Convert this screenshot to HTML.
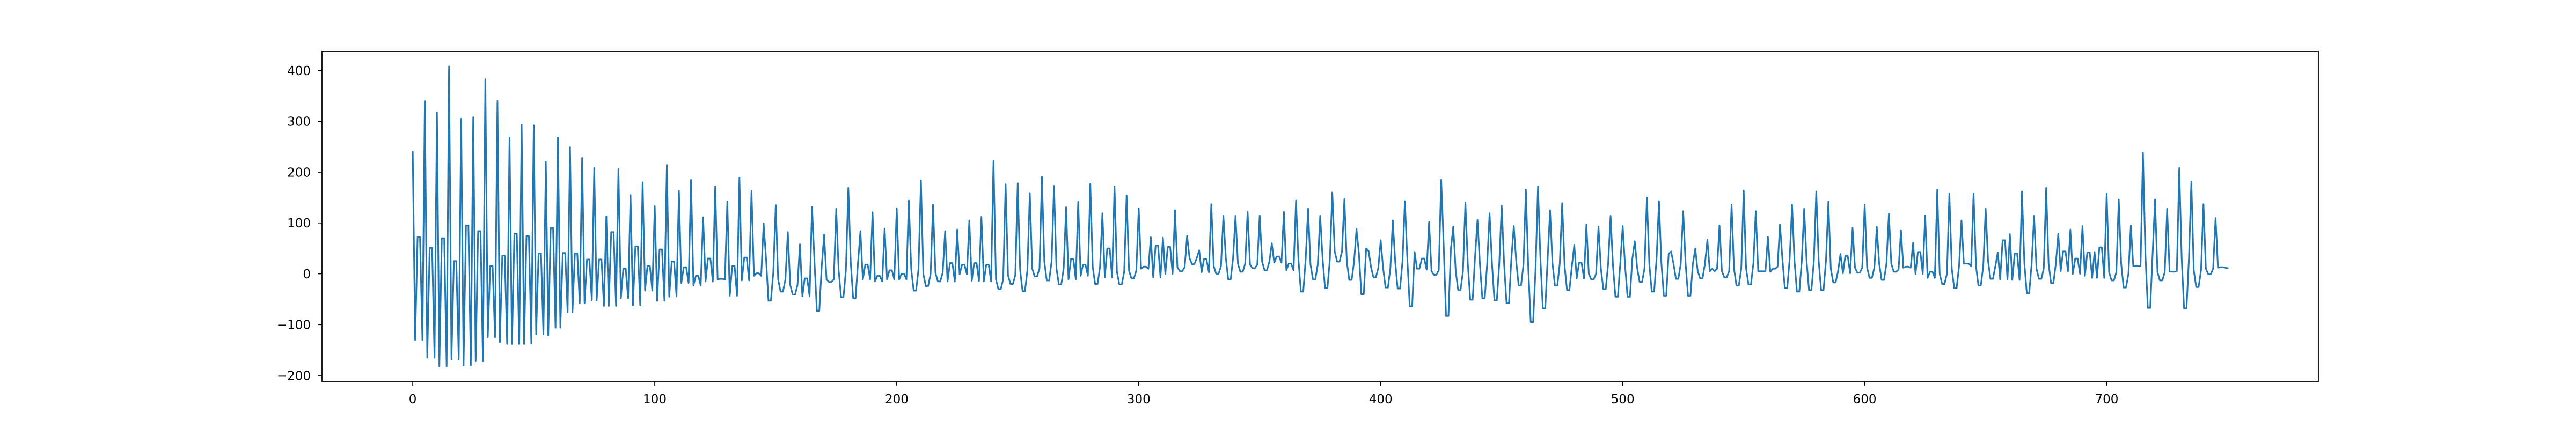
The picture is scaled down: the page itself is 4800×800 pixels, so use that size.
<!DOCTYPE html>
<html><head><meta charset="utf-8"><title>Series chart</title>
<style>html,body{margin:0;padding:0;background:#fff;}svg{display:block;}</style>
</head><body>
<svg id="chart" width="4800" height="800" viewBox="0 0 4800 800" xmlns="http://www.w3.org/2000/svg">
<rect x="0" y="0" width="4800" height="800" fill="#fff"/>
<g id="plot"></g>
</svg>
<script>
const xTicks = [0, 100, 200, 300, 400, 500, 600, 700];
const yTicks = [-200, -100, 0, 100, 200, 300, 400];
const yTickLabels = ["\u2212200", "\u2212100", "0", "100", "200", "300", "400"];
const seriesValues = [
240,-130,72,72,-130, 340,-165,51,51,-165, 318,-182,70,70,-182, 408,-168,25,25,-168,
305,-180,95,95,-180, 308,-172,84,84,-172, 383,-125,15,15,-125, 340,-135,36,36,-138,
268,-138,79,79,-138, 293,-138,74,74,-137, 292,-119,40,40,-119, 220,-121,90,90,-106,
268,-106,41,41,-76, 249,-76,40,40,-58, 228,-58,28,28,-52, 208,-52,28,28,-63,
113,-63,82,82,-63, 206,-48,10,10,-48, 155,-62,54,54,-62, 180,-33,15,15,-33,
133,-53,48,48,-53, 214,-45,24,24,-44, 163,-18,13,13,-18, 185,-23,-4,-4,-23,
111,-15,30,30,-15, 172,-11,-10,-10,-11, 142,-43,15,15,-43, 189,-13,32,32,-13,
163,-4,1,1,-4, 99,30,-53,-53,3, 135,-11,-35,-35,-11, 82,-22,-41,-41,-22,
58,-44,-9,-9,-44, 132,25,-73,-73,15, 77,-11,-16,-16,-11, 128,7,-46,-46,7,
169,22,-48,-48,22, 84,-11,18,18,-11, 121,-15,-4,-4,-15, 89,-11,7,7,-11,
129,-11,0,0,-11, 144,9,-33,-33,9, 184,0,-24,-24,0, 136,2,-15,-15,2,
84,-15,21,21,-15, 87,-1,18,18,-1, 105,-14,21,21,-14, 112,-15,18,18,-15,
222,-11,-30,-30,-11, 176,-3,-20,-20,-3, 178,7,-34,-34,7, 159,10,-5,-5,10,
191,24,-13,-13,24, 173,11,-21,-21,11, 131,-11,29,29,-11, 142,-4,18,18,-4,
177,13,-20,-20,13, 119,-7,50,50,-7, 172,4,-21,-21,4, 154,6,-9,-9,6,
129,10,14,14,10, 72,-7,56,56,-7, 71,0,53,53,0, 125,13,5,5,13,
75,31,19,19,31, 46,3,29,29,3, 137,15,0,0,15, 114,31,-11,-11,31,
114,20,4,4,20, 122,18,11,11,18, 115,24,7,7,24, 60,22,34,34,22,
122,7,20,20,7, 144,29,-35,-35,29, 128,18,-11,-11,18, 114,29,-28,-28,29,
160,44,24,24,44, 147,24,-12,-12,24, 88,40,-40,-40,50, 45,13,-7,-7,11,
66,11,-27,-27,11, 105,24,-29,-29,24, 143,30,-64,-64,43, 10,10,30,30,8,
102,5,-2,-2,7, 185,60,-83,-83,49, 93,5,-32,-32,5, 140,20,-51,-51,34,
106,20,-48,-48,20, 119,20,-52,-52,20, 134,20,-58,-58,30, 94,25,-23,-23,18,
166,10,-95,-95,10, 172,30,-68,-68,30, 125,20,-23,-23,20, 139,15,-32,-32,15,
57,-9,22,22,-9, 97,0,-11,-11,0, 93,10,-30,-30,20, 114,15,-45,-45,20,
94,15,-45,-45,30, 64,11,-16,-16,10, 150,20,-35,-35,30, 143,20,-43,-43,39,
44,20,-10,-10,20, 123,20,-43,-43,20, 50,5,-9,-9,20, 67,5,10,5,10,
95,5,-7,-7,5, 136,10,-23,-23,10, 164,10,-21,-21,20, 123,5,5,5,5,
73,4,10,10,14, 97,29,-28,-28,29, 136,25,-35,-35,25, 128,25,-32,-32,25,
162,25,-32,-32,25, 142,10,-17,-17,5, 39,1,35,35,1, 90,12,2,2,12,
136,12,-8,-8,12, 92,20,-12,-12,20, 118,20,4,4,8, 86,12,14,14,12,
61,0,43,43,0, 115,-8,4,4,-8, 166,0,-20,-20,0, 158,10,-28,-28,15,
105,20,20,20,15, 158,15,-23,-23,15, 128,25,-10,-10,15, 42,-11,66,66,-11,
78,-12,40,40,-12, 162,20,-38,-38,20, 114,10,-10,-10,10, 169,20,-18,-18,20,
79,5,44,44,5, 87,0,30,30,0, 94,-4,42,42,-8, 43,-8,52,52,-8,
158,3,-13,-13,3, 146,20,-27,-27,0, 95,15,15,15,15, 238,40,-67,-67,40,
146,3,-13,-13,3, 128,5,4,4,5, 208,30,-68,-68,30, 181,7,-26,-26,7,
137,10,-1,-1,10, 110,12,13,13,12, 11
];

const NS = "http://www.w3.org/2000/svg";
const L = 600, R = 4320, T = 96, B = 711;
const n = seriesValues.length;
const xMin0 = 0, xMax0 = n - 1;
const xPad = (xMax0 - xMin0) * 0.05;
const xLo = xMin0 - xPad, xHi = xMax0 + xPad;
const yMin0 = Math.min(...seriesValues), yMax0 = Math.max(...seriesValues);
const yPad = (yMax0 - yMin0) * 0.05;
const yLo = yMin0 - yPad, yHi = yMax0 + yPad;
function xScale(v) { return L + (v - xLo) / (xHi - xLo) * (R - L); }
function yScale(v) { return B - (v - yLo) / (yHi - yLo) * (B - T); }

const plot = document.getElementById("plot");
function mk(tag, attrs) {
  const e = document.createElementNS(NS, tag);
  for (const k in attrs) e.setAttribute(k, attrs[k]);
  return e;
}

let d = "";
seriesValues.forEach((v, i) => { d += (i ? "L" : "M") + xScale(i).toFixed(2) + " " + yScale(v).toFixed(2); });
const line = mk("path", { d: d, fill: "none", stroke: "#1f77b4", "stroke-width": "3", "stroke-linejoin": "round", "stroke-linecap": "square" });


plot.appendChild(line);

const frame = mk("rect", { x: L, y: T, width: R - L, height: B - T, fill: "none", stroke: "#000", "stroke-width": "1.8" });


plot.appendChild(frame);

const font = '"DejaVu Sans", "Liberation Sans", sans-serif';
xTicks.forEach(t => {
  const x = xScale(t);
  const tk = mk("line", { x1: x, y1: B, x2: x, y2: B + 8, stroke: "#000", "stroke-width": "1.6" });
  
  
  plot.appendChild(tk);
  const tx = mk("text", { x: x, y: 752, "text-anchor": "middle", "font-size": "23", "font-family": font, fill: "#000" });
  tx.textContent = String(t);
  
  
  plot.appendChild(tx);
});
yTicks.forEach((t, i) => {
  const y = yScale(t);
  const tk = mk("line", { x1: L - 8, y1: y, x2: L, y2: y, stroke: "#000", "stroke-width": "1.6" });
  
  
  plot.appendChild(tk);
  const tx = mk("text", { x: 579, y: y + 8.3, "text-anchor": "end", "font-size": "23", "font-family": font, fill: "#000" });
  tx.textContent = yTickLabels[i];
  
  
  plot.appendChild(tx);
});
</script>
</body></html>
